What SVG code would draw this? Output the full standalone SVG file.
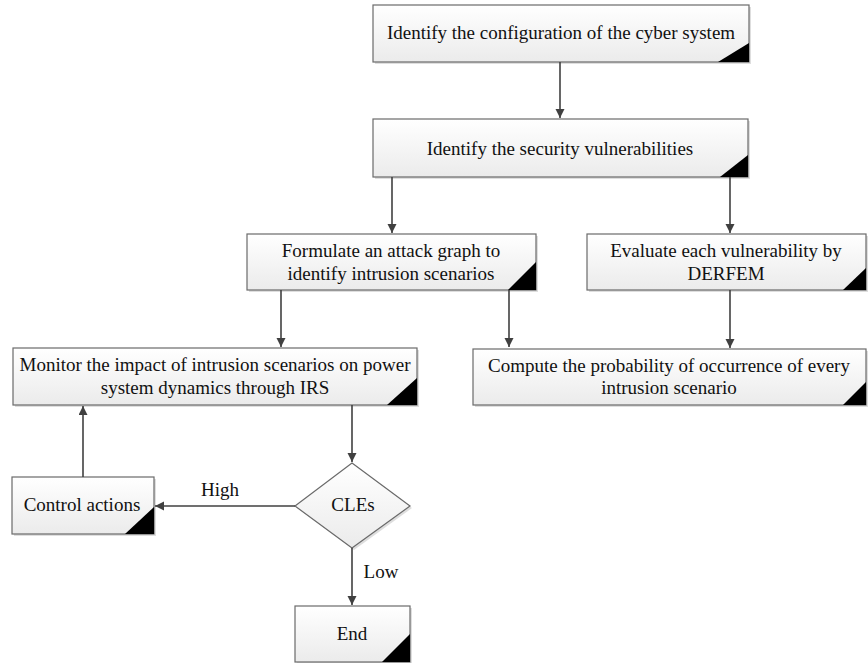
<svg xmlns="http://www.w3.org/2000/svg" width="868" height="663" viewBox="0 0 868 663">
<defs>
<linearGradient id="g" x1="0" y1="0" x2="0" y2="1">
<stop offset="0" stop-color="#ffffff"/>
<stop offset="1" stop-color="#ebebeb"/>
</linearGradient>
<marker id="ah" markerUnits="userSpaceOnUse" markerWidth="10" markerHeight="10" refX="9" refY="4.5" orient="auto">
<path d="M0,0 L9,4.5 L0,9 z" fill="#404040"/>
</marker>
<style>
.box{fill:url(#g);stroke:#6a6a6a;stroke-width:1.2}
.sh{fill:#dedede;stroke:none}
.tri{fill:#000}
.t{font-family:'Liberation Serif','DejaVu Serif',serif;font-size:19px;fill:#111;text-anchor:middle}
.c{fill:none;stroke:#404040;stroke-width:1.6;marker-end:url(#ah)}
</style>
</defs>
<rect width="868" height="663" fill="#fff"/>
<g id="n1">
<rect class="sh" x="375" y="7" width="376" height="57"/>
<rect class="box" x="373" y="5" width="376" height="57"/>
<path class="tri" d="M749,43 L749,62 L718,62 z"/>
<text class="t" font-family="Liberation Serif, serif" x="561" y="39">Identify the configuration of the cyber system</text>
</g>
<g id="n2">
<rect class="sh" x="375" y="121" width="375" height="58"/>
<rect class="box" x="373" y="119" width="375" height="58"/>
<path class="tri" d="M748,155 L748,177 L720,177 z"/>
<text class="t" font-family="Liberation Serif, serif" x="560" y="155">Identify the security vulnerabilities</text>
</g>
<g id="n3">
<rect class="sh" x="249" y="236" width="289" height="56"/>
<rect class="box" x="247" y="234" width="289" height="56"/>
<path class="tri" d="M536,262 L536,290 L508,290 z"/>
<text class="t" font-family="Liberation Serif, serif" x="391" y="257">Formulate an attack graph to</text>
<text class="t" font-family="Liberation Serif, serif" x="391" y="280">identify intrusion scenarios</text>
</g>
<g id="n4">
<rect class="sh" x="589" y="236" width="279" height="56"/>
<rect class="box" x="587" y="234" width="279" height="56"/>
<path class="tri" d="M866,268 L866,290 L843,290 z"/>
<text class="t" font-family="Liberation Serif, serif" x="726" y="257">Evaluate each vulnerability by</text>
<text class="t" font-family="Liberation Serif, serif" x="726" y="280">DERFEM</text>
</g>
<g id="n5">
<rect class="sh" x="15" y="350" width="404" height="57"/>
<rect class="box" x="13" y="348" width="404" height="57"/>
<path class="tri" d="M417,378 L417,405 L387,405 z"/>
<text class="t" font-family="Liberation Serif, serif" x="215" y="371">Monitor the impact of intrusion scenarios on power</text>
<text class="t" font-family="Liberation Serif, serif" x="215" y="394">system dynamics through IRS</text>
</g>
<g id="n6">
<rect class="sh" x="475" y="351" width="393" height="56"/>
<rect class="box" x="473" y="349" width="393" height="56"/>
<path class="tri" d="M866,382 L866,405 L843,405 z"/>
<text class="t" font-family="Liberation Serif, serif" x="669" y="372">Compute the probability of occurrence of every</text>
<text class="t" font-family="Liberation Serif, serif" x="669" y="394">intrusion scenario</text>
</g>
<g id="n7">
<rect class="sh" x="14" y="479" width="142" height="57"/>
<rect class="box" x="12" y="477" width="142" height="57"/>
<path class="tri" d="M154,507 L154,534 L125,534 z"/>
<text class="t" font-family="Liberation Serif, serif" x="82" y="511">Control actions</text>
</g>
<g id="n8">
<path class="sh" d="M354,465 L412,508 L354,550 L297,508 z"/>
<path class="box" d="M352,463 L410,506 L352,548 L295,506 z"/>
<text class="t" font-family="Liberation Serif, serif" x="353" y="511">CLEs</text>
</g>
<g id="n9">
<rect class="sh" x="297" y="608" width="115" height="56"/>
<rect class="box" x="295" y="606" width="115" height="56"/>
<path class="tri" d="M410,634 L410,662 L382,662 z"/>
<text class="t" font-family="Liberation Serif, serif" x="352" y="640">End</text>
</g>
<g id="connectors">
<path class="c" d="M560,62 L560,118"/>
<path class="c" d="M392,177 L392,233"/>
<path class="c" d="M730,177 L730,233"/>
<path class="c" d="M281,290 L281,347"/>
<path class="c" d="M509,290 L509,347"/>
<path class="c" d="M730,290 L730,348"/>
<path class="c" d="M352,405 L352,462"/>
<path class="c" d="M295,506 L155,506"/>
<path class="c" d="M83,477 L83,406"/>
<path class="c" d="M352,548 L352,605"/>
<text class="t" font-family="Liberation Serif, serif" x="220" y="496">High</text>
<text class="t" font-family="Liberation Serif, serif" x="381" y="578">Low</text>
</g>
</svg>
